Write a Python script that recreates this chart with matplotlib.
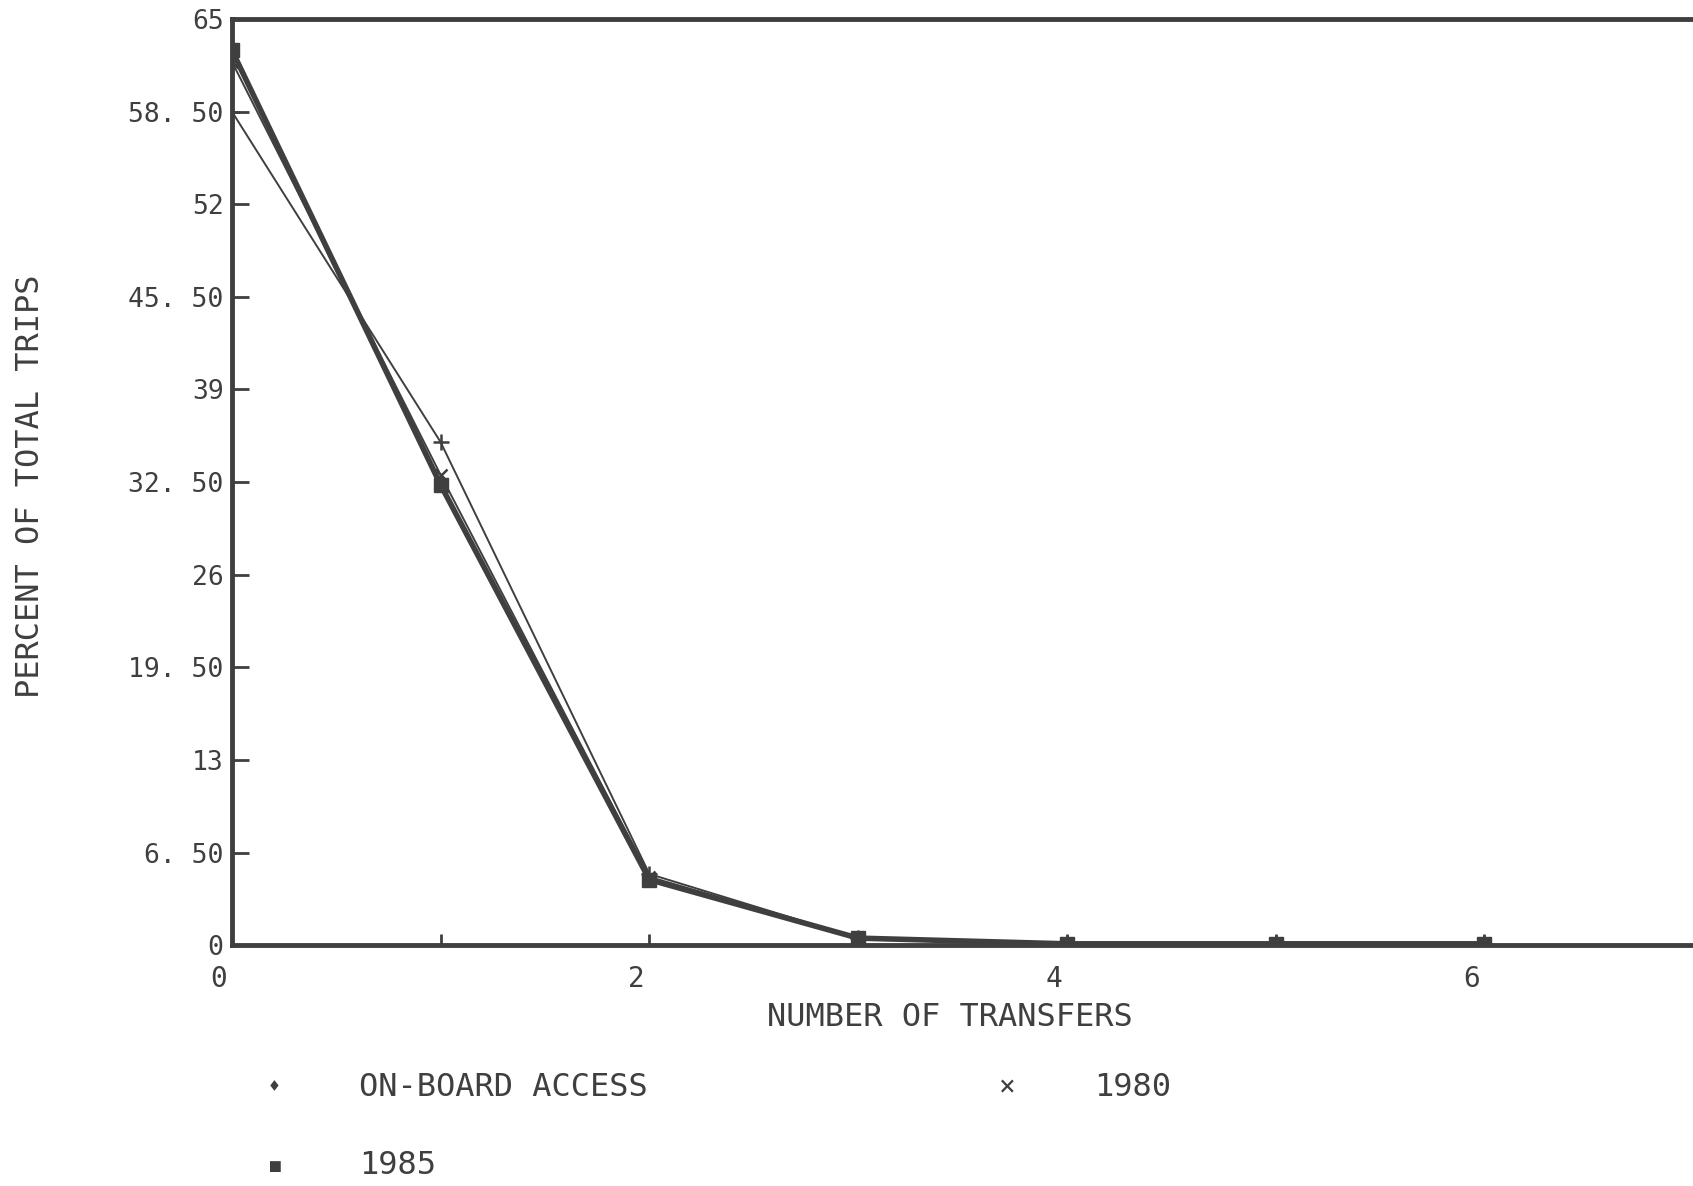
import matplotlib
matplotlib.use("Agg")
import matplotlib.pyplot as plt
import matplotlib.transforms as mtransforms

# ---------------------------------
# Data
# ---------------------------------

transfers = [0, 1, 2, 3, 4, 5, 6]

onboard_access = [58.5, 35.3, 5.0, 0.5, 0.1, 0.1, 0.1]
trips_1980 = [62.0, 33.0, 4.8, 0.5, 0.1, 0.1, 0.1]
trips_1985 = [62.8, 32.3, 4.6, 0.5, 0.1, 0.1, 0.1]

y_ticks = [0, 6.5, 13, 19.5, 26, 32.5, 39, 45.5, 52, 58.5, 65]
y_tick_labels = ["0", "6. 50", "13", "19. 50", "26", "32. 50",
                 "39", "45. 50", "52", "58. 50", "65"]
x_ticks = [0, 2, 4, 6]

ink = "#3f3f3f"
plt.rcParams["font.family"] = ["DejaVu Sans Mono"]

# ---------------------------------
# Figure
# ---------------------------------

fig = plt.figure(figsize=(16.93, 11.86), dpi=100)
ax = fig.add_axes([0.137, 0.203, 0.863, 0.781])

ax.plot(transfers, onboard_access, color=ink, lw=1.4,
        marker="+", ms=11, mew=1.8)
ax.plot(transfers, trips_1980, color=ink, lw=1.4,
        marker="x", ms=8, mew=1.8)
ax.plot(transfers, trips_1985, color=ink, lw=4,
        marker="s", ms=10)

# ---------------------------------
# Axes
# ---------------------------------

ax.set_xlim(0, 7)
ax.set_ylim(0, 65)

ax.set_yticks(y_ticks)
ax.set_yticklabels(y_tick_labels)
ax.set_xticks(x_ticks)
ax.set_xticks(transfers, minor=True)

ax.tick_params(axis="y", direction="in", length=12, width=2,
               colors=ink, labelsize=19, pad=6)
ax.tick_params(axis="x", which="both", direction="in", length=8,
               width=2, colors=ink, labelsize=20, pad=14)

# labels in the scan sit a little left of their ticks
shift = mtransforms.ScaledTranslation(-0.13, 0, fig.dpi_scale_trans)
for lbl in ax.get_xticklabels():
    lbl.set_transform(lbl.get_transform() + shift)

for side in ["left", "top", "bottom"]:
    ax.spines[side].set_linewidth(3.5)
    ax.spines[side].set_color(ink)
ax.spines["right"].set_visible(False)

fig.text(0.561, 0.142, "NUMBER OF TRANSFERS", ha="center",
         va="center", fontsize=23, color=ink)
fig.text(0.018, 0.59, "PERCENT OF TOTAL TRIPS", ha="center",
         va="center", rotation=90, fontsize=23, color=ink)

# ---------------------------------
# Legend drawn as text rows
# ---------------------------------

fig.text(0.162, 0.083, "\u2666", ha="center", va="center",
         fontsize=13, color=ink)
fig.text(0.212, 0.083, "ON-BOARD ACCESS", ha="left",
         va="center", fontsize=23, color=ink)
fig.text(0.595, 0.083, "\u00d7", ha="center", va="center",
         fontsize=20, color=ink)
fig.text(0.646, 0.083, "1980", ha="left", va="center",
         fontsize=23, color=ink)
fig.text(0.162, 0.017, "\u25aa", ha="center", va="center",
         fontsize=20, color=ink)
fig.text(0.212, 0.017, "1985", ha="left", va="center",
         fontsize=23, color=ink)

fig.savefig("out.png", dpi=100, facecolor="white")
